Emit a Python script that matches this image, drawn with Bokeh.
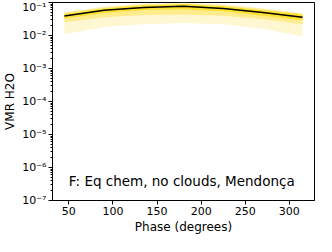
from bokeh.plotting import figure
from bokeh.models import Range1d, FixedTicker, CustomJSTickFormatter, Label, LogTicker
from bokeh.embed import file_html
from bokeh.resources import INLINE

phase = [45, 90, 135, 180, 225, 270, 315]
median = [0.039, 0.058, 0.071, 0.077, 0.066, 0.050, 0.036]
s1_lo = [0.033, 0.048, 0.059, 0.062, 0.054, 0.040, 0.029]
s1_hi = [0.045, 0.066, 0.082, 0.088, 0.077, 0.058, 0.043]
s2_lo = [0.025, 0.036, 0.042, 0.043, 0.040, 0.031, 0.022]
s2_hi = [0.049, 0.071, 0.088, 0.094, 0.083, 0.063, 0.046]
s3_lo = [0.011, 0.018, 0.022, 0.024, 0.022, 0.016, 0.0095]
s3_hi = [0.052, 0.075, 0.092, 0.099, 0.088, 0.067, 0.048]

x_ticks = [50, 100, 150, 200, 250, 300]

FONT = "DejaVu Sans"

p = figure(
    output_backend="svg", toolbar_location=None, y_axis_type="log",
    width=316, height=236,
    min_border_left=10, min_border_right=2, min_border_top=2, min_border_bottom=10,
    x_range=Range1d(31.5, 328.5), y_range=Range1d(1e-7, 1e-1),
)

p.varea(x=phase, y1=s3_lo, y2=s3_hi, fill_color="#FFF6D2", fill_alpha=1)
p.varea(x=phase, y1=s2_lo, y2=s2_hi, fill_color="#FFEC8C", fill_alpha=1)
p.varea(x=phase, y1=s1_lo, y2=s1_hi, fill_color="#FFE133", fill_alpha=1)
p.line(x=phase, y=median, line_color="black", line_width=1.5)

p.add_layout(Label(x=50, y=4e-7, text="F: Eq chem, no clouds, Mendonça",
                   text_font=FONT, text_font_size="13.5px", text_baseline="middle",
                   text_color="black"))

p.xgrid.visible = False
p.ygrid.visible = False
p.outline_line_color = "black"
p.outline_line_alpha = 1
p.outline_line_width = 1

p.xaxis.ticker = FixedTicker(ticks=x_ticks)
p.yaxis.ticker = LogTicker(num_minor_ticks=10)
p.yaxis.formatter = CustomJSTickFormatter(code="""
const sup = {'-':'\u207b','0':'\u2070','1':'\u00b9','2':'\u00b2','3':'\u00b3','4':'\u2074','5':'\u2075','6':'\u2076','7':'\u2077','8':'\u2078','9':'\u2079'};
const e = Math.round(Math.log10(tick)).toString();
return '10' + e.split('').map(c => sup[c]).join('');
""")
p.xaxis.axis_label = "Phase (degrees)"
p.yaxis.axis_label = "VMR H2O"
for ax in (p.xaxis, p.yaxis):
    ax.axis_line_color = "black"
    ax.major_tick_line_color = "black"
    ax.minor_tick_line_color = "black"
    ax.major_tick_out = 4
    ax.major_tick_in = 0
    ax.minor_tick_out = 2
    ax.minor_tick_in = 0
    ax.major_label_text_font = FONT
    ax.major_label_text_font_size = "11px"
    ax.major_label_text_color = "black"
    ax.axis_label_text_font = FONT
    ax.axis_label_text_font_size = "12px"
    ax.axis_label_text_font_style = "normal"
    ax.axis_label_text_color = "black"
    ax.axis_label_standoff = 2
p.xaxis.minor_tick_line_color = None
p.xaxis.major_label_standoff = 2
p.yaxis.major_label_standoff = 2

open("out.html", "w").write(file_html(p, INLINE))
